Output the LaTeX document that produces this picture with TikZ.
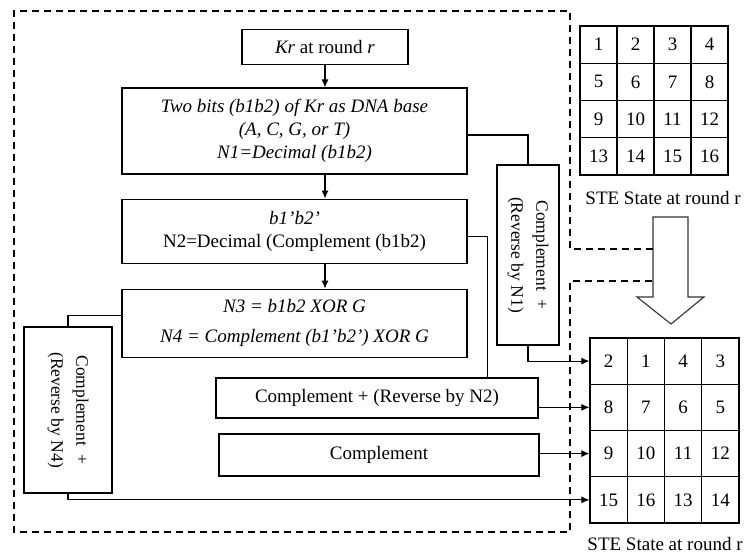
\documentclass[tikz,border=0pt]{standalone}
\usepackage{fontspec}
\setmainfont{Liberation Serif}
\usetikzlibrary{positioning,arrows.meta}
\tikzset{stepbox/.style={draw,line width=1.1pt,inner sep=0pt,align=center},
  sidebox/.style={stepbox,rotate=-90,font=\fontsize{17.5}{25}\selectfont},
  cell/.style={draw,line width=1.1pt,inner sep=0pt,minimum width=37pt},
  link/.style={line width=1.1pt},
  tip/.style={-{Latex[length=8pt,width=7pt]}}
}

\begin{document}
\begin{tikzpicture}[x=1pt,y=-1pt,font=\fontsize{19}{23}\selectfont]
  \useasboundingbox (0,0) rectangle (750,556);

  % Key steps
    \node[stepbox, minimum width=345pt, minimum height=86pt] (bits) at (294.5,131) {\textit{Two bits (b1b2) of Kr as DNA base} \\ \textit{(A, C, G, or T)} \\ \textit{N1=Decimal (b1b2)}};
    \node[stepbox, minimum width=166pt, minimum height=35pt, above = 22pt of bits, xshift=30.5pt] (kr) {\textit{Kr} at round \textit{r}};
    \node[stepbox, minimum width=345pt, minimum height=64pt, below = 24pt of bits] (comp) {\textit{b1'b2'} \\ N2=Decimal (Complement (b1b2)};
    \node[stepbox, minimum width=345pt, minimum height=68pt, below = 25pt of comp] (xor) {\textit{N3 = b1b2 XOR G} \\[7pt] \textit{N4 = Complement (b1'b2') XOR G}};

    % Row operations
    \node[stepbox, minimum width=322pt, minimum height=40pt] (revtwo) at (377,398) {Complement + (Reverse by N2)};
    \node[stepbox, minimum width=320pt, minimum height=42pt] (cmpl) at (379,455) {Complement};
    \node[sidebox, minimum width=180pt, minimum height=62pt] (revone) at (528,255) {Complement\ \ + \\ (Reverse by N1)};
    \node[sidebox, minimum width=166pt, minimum height=88pt] (revfour) at (68,410) {Complement\ \ + \\ (Reverse by N4)};

    % STE states
    \foreach \r in {0,...,3}
      \foreach \c in {0,...,3} {
        \pgfmathtruncatemacro{\v}{4*\r+\c+1}
        \node[cell, minimum height=37.25pt] (s\r\c) at (598.5+37*\c,44.6+37.25*\r) {\v};
      }
    \foreach \row [count=\r from 0] in {{2,1,4,3},{8,7,6,5},{9,10,11,12},{15,16,13,14}}
      \foreach \v [count=\c from 0] in \row
        \node[cell, minimum width=37.25pt, minimum height=46.25pt] (t\r\c) at (608.6+37.25*\c,361.1+46.25*\r) {\v};
    \node (capa) at (663,198) {STE State at round r};
    \node (capb) at (665,544) {STE State at round r};

    % Big arrow and frame
    \draw[line width=1.1pt, black!80] (653,217) -- (688,217) -- (688,297) -- (704,297) -- (671,324) -- (637,297) -- (653,297) -- cycle;
    \draw[line width=1.3pt, dash pattern=on 7pt off 5pt] (653,249) -- (570,249) -- (570,11) -- (14,11) -- (14,532) -- (570,532) -- (570,281) -- (653,281);

    % Flow
    \draw[tip, link] (kr.south) -- (kr.south |- bits.north);
    \draw[tip, link] (kr.south |- bits.south) -- (kr.south |- comp.north);
    \draw[tip, link] (kr.south |- comp.south) -- (kr.south |- xor.north);

    % Steps to operations
    \draw[link] ([yshift=-4pt]bits.east) -| (revone.west);
    \draw[link] ([yshift=-5pt]comp.east) -- ++(20,0) coordinate (kink) -- (kink |- revtwo.north);
    \draw[link] ([yshift=8pt]xor.west) -| (revfour.west);

    % Operations to new state
    \draw[tip, link] (revone.east) |- (t00.west);
    \draw[tip, link] (revtwo.east |- t10.west) -- (t10.west);
    \draw[tip, link] (cmpl.east |- t20.west) -- (t20.west);
    \draw[tip, link] (revfour.east) |- (t30.west);

  \end{tikzpicture}
\end{document}
